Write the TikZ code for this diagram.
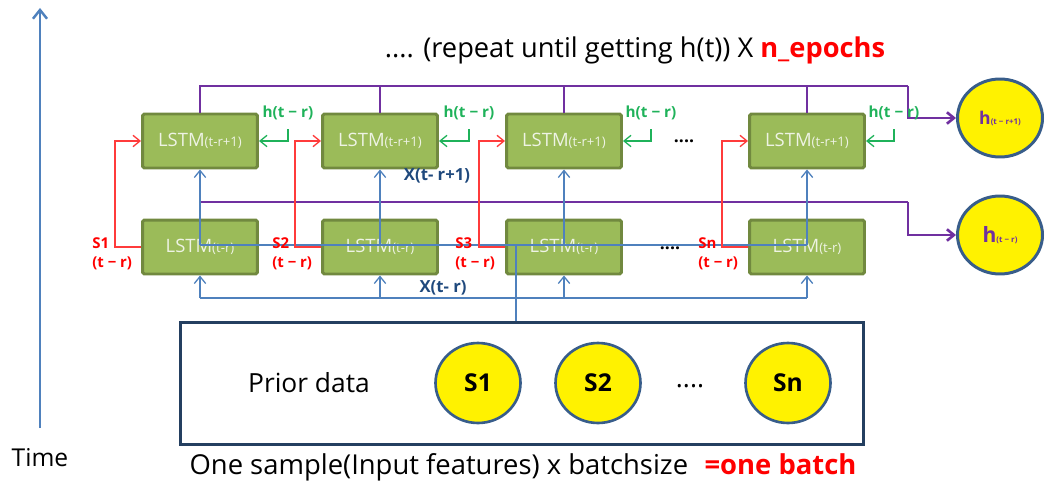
\documentclass[tikz,border=0pt]{standalone}
\usepackage{fontspec}
\setmainfont{Open Sans}
\usetikzlibrary{arrows.meta,shapes.geometric}
\definecolor{boxfill}{HTML}{9BBB59}
\definecolor{boxline}{HTML}{71893F}
\definecolor{boxtext}{HTML}{EEF3E4}
\definecolor{lineblue}{HTML}{4F81BD}
\definecolor{xblue}{HTML}{1F497D}
\definecolor{outpurple}{HTML}{7030A0}
\definecolor{hgreen}{HTML}{1FB25A}
\definecolor{sred}{HTML}{FF0000}
\definecolor{sline}{HTML}{FF3B3B}
\definecolor{circline}{HTML}{385D8A}
\definecolor{priorline}{HTML}{243F60}
\newcommand{\lstmsub}[1]{{\fontsize{7.5}{8}\selectfont #1}}
\newcommand{\hsub}[1]{{\fontsize{4.5}{5}\selectfont #1}}
\tikzset{
	plain/.style={inner sep=0pt, font=\fontsize{15}{18}\selectfont},
	lstm/.style={draw=boxline, fill=boxfill, line width=1.7pt, rounded corners=1pt, minimum width=2.3cm, minimum height=1.08cm, inner sep=0pt, text=boxtext, font=\fontsize{10.5}{12}\selectfont},
	hcirc/.style={ellipse, draw=circline, fill=yellow, line width=1.7pt, minimum width=1.7cm, minimum height=1.56cm, inner sep=0pt, text=outpurple, font=\fontsize{10}{12}\selectfont\bfseries},
	scirc/.style={ellipse, draw=circline, fill=yellow, line width=1.5pt, minimum width=1.7cm, minimum height=1.6cm, inner sep=0pt, font=\fontsize{14}{16}\selectfont\bfseries},
	priorbox/.style={draw=priorline, line width=1.7pt, minimum width=13.68cm, minimum height=2.46cm, inner sep=0pt},
	barb/.style={-{Straight Barb[length=4pt,width=6.5pt]}},
	outline/.style={draw=outpurple, line width=0.8pt},
	outarrow/.style={draw=outpurple, line width=1.5pt, barb},
	xline/.style={draw=lineblue, line width=0.75pt},
	xarrow/.style={draw=lineblue, line width=0.75pt, barb},
	sarrow/.style={draw=sline, line width=0.75pt, barb},
	harrow/.style={draw=hgreen, line width=0.75pt, barb},
	hlab/.style={inner sep=0pt, text=hgreen, font=\fontsize{8.7}{10}\selectfont\bfseries},
	slab/.style={inner sep=0pt, text=sred, align=left, anchor=west, font=\fontsize{8.5}{11}\selectfont\bfseries},
	xlab/.style={inner sep=0pt, text=xblue, font=\fontsize{9.5}{11}\selectfont\bfseries},
	timearrow/.style={draw=lineblue, line width=1.4pt, -{Straight Barb[length=5pt,width=8pt]}}
}
\begin{document}
\begin{tikzpicture}[x=0.02cm, y=-0.02cm]
			\useasboundingbox (0,0) rectangle (1054,500);
			
			%%%%% TIME AXIS %%%%%
			\coordinate (tbot) at (40,428);
			\coordinate (ttop) at (40,8);
			\draw[timearrow] (tbot) -- (ttop);
			\node[plain, font=\fontsize{14}{17}\selectfont] (tlab) at (40,458) {Time};
			
			%%%%% TITLE %%%%%
			\node[plain, font=\fontsize{15.5}{18}\selectfont] (title) at (635,50) {.... (repeat until getting h(t)) X \textcolor{sred}{\bfseries n\_epochs}};
			
			%%%%% LSTM CELLS %%%%%
			\node[lstm] (u1) at (200,141) {LSTM\lstmsub{(t-r+1)}};
			\node[lstm] (u2) at (380,141) {LSTM\lstmsub{(t-r+1)}};
			\node[lstm] (u3) at (564,141) {LSTM\lstmsub{(t-r+1)}};
			\node[lstm] (u4) at (807,141) {LSTM\lstmsub{(t-r+1)}};
			
			\node[lstm] (l1) at (200,247) {LSTM\lstmsub{(t-r)}};
			\node[lstm] (l2) at (380,247) {LSTM\lstmsub{(t-r)}};
			\node[lstm] (l3) at (564,247) {LSTM\lstmsub{(t-r)}};
			\node[lstm] (l4) at (807,247) {LSTM\lstmsub{(t-r)}};
			
			\node[inner sep=0pt, font=\bfseries] (udots) at (684,141) {....};
			\node[inner sep=0pt, font=\bfseries] (ldots) at (670,248) {....};
			
			%%%%% OUTPUT CIRCLES %%%%%
			\node[hcirc] (hu) at (1000,118) {h\hsub{(t − r+1)}};
			\node[hcirc] (hl) at (1000,235) {\fontsize{12}{14}\selectfont h\hsub{(t − r)}};
			
			%%%%% PRIOR DATA %%%%%
			\node[priorbox] (prior) at (522,383.5) {};
			\node[plain] (plab) at (309,383) {Prior data};
			\node[scirc] (c1) at (478,383) {S1};
			\node[scirc] (c2) at (598,383) {S2};
			\node[plain] (cdots) at (690,386) {....};
			\node[scirc] (cn) at (788,383) {Sn};
			\node[plain, font=\fontsize{15.6}{18}\selectfont] (batch) at (523,467) {One sample(Input features) x batchsize\hspace{0.6em}\textcolor{sred}{\bfseries =one batch}};
			
			%%%%% PURPLE OUTPUT LINES %%%%%
			\coordinate (ptop) at (908,86);
			\draw[outline] (u1.north) |- (ptop);
			\draw[outline] (u2.north) -- (u2.north |- ptop);
			\draw[outline] (u3.north) -- (u3.north |- ptop);
			\draw[outline] (u4.north) -- (u4.north |- ptop);
			\draw[outarrow] (ptop) |- (hu.west);
			
			\coordinate (pmidL) at (200,202);
			\coordinate (pmidR) at (908,202);
			\draw[outline] (pmidL) -- (pmidR);
			\draw[outarrow] (pmidR) |- (hl.west);
			
			%%%%% BLUE INPUT LINES %%%%%
			\coordinate (bmidL) at (200,245);
			\coordinate (bmidR) at (807,245);
			\draw[xline] (bmidL) -- (bmidR);
			\draw[xarrow] (bmidL) -- (u1.south);
			\draw[xarrow] (u2.south |- bmidL) -- (u2.south);
			\draw[xarrow] (u3.south |- bmidL) -- (u3.south);
			\draw[xarrow] (bmidR) -- (u4.south);
			
			\coordinate (blowL) at (200,298);
			\coordinate (blowR) at (807,298);
			\draw[xline] (blowL) -- (blowR);
			\draw[xarrow] (blowL) -- (l1.south);
			\draw[xarrow] (l2.south |- blowL) -- (l2.south);
			\draw[xarrow] (l3.south |- blowL) -- (l3.south);
			\draw[xarrow] (blowR) -- (l4.south);
			
			\coordinate (feed) at (516,245);
			\draw[xline] (prior.north -| feed) -- (feed);
			
			\node[xlab] (xup) at (437,176) {X(t- r+1)};
			\node[xlab] (xlow) at (443,288) {X(t- r)};
			
			%%%%% RED STATE LINES %%%%%
			\draw[sarrow] (l1.west) -- ++(-26,0) |- (u1.west);
			\draw[sarrow] (l2.west) -- ++(-26,0) |- (u2.west);
			\draw[sarrow] (l3.west) -- ++(-26,0) |- (u3.west);
			\draw[sarrow] (l4.west) -- ++(-26,0) |- (u4.west);
			
			\node[slab] (s1) at (92,254) {S1\\(t − r)};
			\node[slab] (s2) at (272,254) {S2\\(t − r)};
			\node[slab] (s3) at (455,254) {S3\\(t − r)};
			\node[slab] (sn) at (698,254) {Sn\\(t − r)};
			
			%%%%% GREEN HIDDEN LINES %%%%%
			\node[hlab] (hr1) at (288,113) {h(t − r)};
			\node[hlab] (hr2) at (469,113) {h(t − r)};
			\node[hlab] (hr3) at (651,113) {h(t − r)};
			\node[hlab] (hr4) at (894,113) {h(t − r)};
			\draw[harrow] (hr1.center) ++(0,16) |- (u1.east);
			\draw[harrow] (hr2.center) ++(0,16) |- (u2.east);
			\draw[harrow] (hr3.center) ++(0,16) |- (u3.east);
			\draw[harrow] (hr4.center) ++(0,16) |- (u4.east);
			
			%%%%% END %%%%%
		\end{tikzpicture}
\end{document}
